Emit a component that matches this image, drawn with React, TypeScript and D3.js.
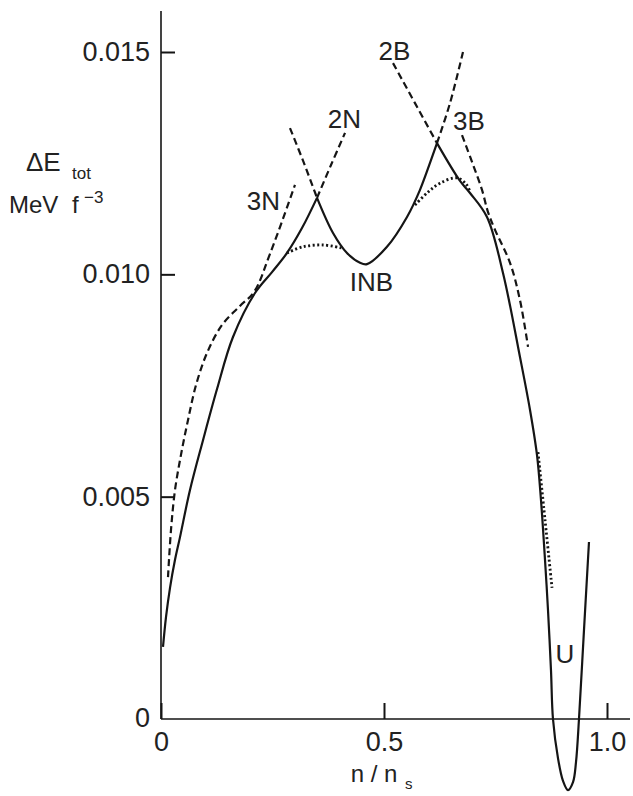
import React, { useEffect, useRef } from 'react';
import * as d3 from 'd3';

type Pt = [number, number];

// n/n_s , ΔE_tot (MeV f^-3)
const curve2N: Pt[] = [
  [0.0045, 0.00162], [0.0112, 0.00229], [0.0202, 0.00295], [0.0314, 0.00358],
  [0.0426, 0.00409], [0.065, 0.00515], [0.0942, 0.00627], [0.1256, 0.00742],
  [0.1614, 0.00859], [0.2108, 0.00958], [0.2489, 0.01005], [0.2825, 0.01048],
  [0.3161, 0.01104], [0.3498, 0.01172],
];
const curve2NExt: Pt[] = [[0.3498, 0.01172], [0.3812, 0.01246], [0.4126, 0.01318]];

const curve3N: Pt[] = [
  [0.0157, 0.00319], [0.0224, 0.00425], [0.0314, 0.00515], [0.0448, 0.00594],
  [0.0605, 0.00672], [0.0785, 0.00751], [0.1031, 0.00823], [0.1368, 0.00886],
  [0.1771, 0.00929], [0.2085, 0.0096], [0.2444, 0.01046], [0.3004, 0.01201],
];

const curveINBExtLow: Pt[] = [[0.2892, 0.01329], [0.3206, 0.0125], [0.3498, 0.01172]];
const curveINB: Pt[] = [
  [0.3498, 0.01172], [0.3857, 0.01093], [0.417, 0.01048], [0.4462, 0.01026],
  [0.4619, 0.01023], [0.5067, 0.01062], [0.5516, 0.01129], [0.5807, 0.0119],
  [0.6188, 0.01295],
];
const curveINBExtHigh: Pt[] = [[0.6188, 0.01295], [0.648, 0.01385], [0.6771, 0.015]];

const curve2BExt: Pt[] = [[0.5202, 0.01475], [0.5695, 0.01385], [0.6188, 0.01295]];
// 2B -> 3B -> U, lowest branch on the right
const curveHigh: Pt[] = [
  [0.6188, 0.01295], [0.6704, 0.0121], [0.6928, 0.01183], [0.7309, 0.01129],
  [0.7668, 0.01003], [0.8049, 0.00814], [0.8274, 0.00695], [0.843, 0.00594],
  [0.852, 0.00492], [0.861, 0.00358], [0.8677, 0.00245], [0.8744, 0.0011],
  [0.8789, 0], [0.8901, -0.00088], [0.9013, -0.00139], [0.9126, -0.0016],
  [0.9238, -0.00142], [0.9305, -0.00097], [0.9372, 0], [0.9484, 0.002],
  [0.9596, 0.00398],
];

const curve3B: Pt[] = [
  [0.6749, 0.01313], [0.6973, 0.01253], [0.7197, 0.0119], [0.7332, 0.0114],
  [0.7489, 0.011], [0.7825, 0.01026], [0.8049, 0.00942], [0.8229, 0.00837],
];

const dottedLeft: Pt[] = [[0.2825, 0.01048], [0.3184, 0.01062], [0.3632, 0.01066], [0.4058, 0.01059]];
const dottedMid: Pt[] = [
  [0.5695, 0.01156], [0.5987, 0.01185], [0.6256, 0.01205], [0.6637, 0.01217],
  [0.6839, 0.01203], [0.6928, 0.01186],
];
const dottedLow: Pt[] = [[0.8453, 0.006], [0.861, 0.00448], [0.8767, 0.00295]];

const yTicks = [0.005, 0.01, 0.015];
const xTicks = [0, 0.5, 1.0];

const FONT = '"Liberation Sans", Arial, sans-serif';
const INK = '#151515';

export default function App() {
  const xAxisRef = useRef<SVGGElement>(null);
  const yAxisRef = useRef<SVGGElement>(null);

  const x = d3.scaleLinear().domain([0, 1]).range([161, 607]);
  const y = d3.scaleLinear().domain([0, 0.015]).range([719, 52]);

  const line = d3.line<Pt>()
    .x(d => x(d[0]))
    .y(d => y(d[1]))
    .curve(d3.curveCatmullRom.alpha(0.5));

  useEffect(() => {
    const yAxis = d3.axisLeft(y)
      .tickValues(yTicks)
      .tickSizeInner(-14)
      .tickSizeOuter(0)
      .tickPadding(11)
      .tickFormat(d3.format('.3f') as any);
    const gy = d3.select(yAxisRef.current!).call(yAxis);
    gy.select('.domain').remove();
    gy.attr('font-family', FONT).attr('font-size', 27);
    gy.selectAll('line').attr('stroke', INK).attr('stroke-width', 2);
    gy.selectAll('text').attr('fill', '#222');

    const xAxis = d3.axisBottom(x)
      .tickValues(xTicks)
      .tickSizeInner(-16)
      .tickSizeOuter(0)
      .tickPadding(13)
      .tickFormat((d: any) => (d === 0 ? '0' : d3.format('.1f')(d)));
    const gx = d3.select(xAxisRef.current!).call(xAxis);
    gx.select('.domain').remove();
    gx.attr('font-family', FONT).attr('font-size', 27);
    gx.selectAll('line').attr('stroke', INK).attr('stroke-width', 2);
    gx.selectAll('text').attr('fill', '#222');
  }, []);

  const solid = { fill: 'none', stroke: INK, strokeWidth: 2.2 };
  const dashed = { ...solid, strokeDasharray: '7,4' };
  const dotted = { ...solid, strokeWidth: 2.8, strokeDasharray: '2,2.5' };

  const label = (t: string, px: number, py: number) => (
    <text x={x(px)} y={y(py)} textAnchor="middle" fontSize={26} fill="#222" fontFamily={FONT}>{t}</text>
  );

  return (
    <svg width={633} height={796} style={{ position: 'absolute', left: 0, top: 0, background: '#fff' }}>
      {/* axes */}
      <line x1={161} y1={11} x2={161} y2={719} stroke={INK} strokeWidth={1.6} />
      <line x1={161} y1={719} x2={630} y2={719} stroke={INK} strokeWidth={1.6} />
      <g ref={yAxisRef} transform="translate(161,0)" />
      <g ref={xAxisRef} transform="translate(0,719)" />
      <text x={150} y={727} textAnchor="end" fontSize={27} fill="#222" fontFamily={FONT}>0</text>

      {/* axis titles */}
      <text x={26} y={171} fontSize={26} fill="#222" fontFamily={FONT}>ΔE</text>
      <text x={72} y={179} fontSize={17} fill="#222" fontFamily={FONT}>tot</text>
      <text x={9} y={213} fontSize={24} fill="#222" fontFamily={FONT}>MeV</text>
      <text x={72} y={213} fontSize={24} fill="#222" fontFamily={FONT}>f</text>
      <text x={84} y={203} fontSize={17} fill="#222" fontFamily={FONT}>−3</text>
      <text x={374} y={782} fontSize={24} fill="#222" fontFamily={FONT} textAnchor="middle">n / n</text>
      <text x={405} y={789} fontSize={15} fill="#222" fontFamily={FONT}>s</text>

      {/* curves */}
      <path d={line(curve2N)!} style={solid} />
      <path d={line(curve2NExt)!} style={dashed} />
      <path d={line(curve3N)!} style={dashed} />
      <path d={line(curveINBExtLow)!} style={dashed} />
      <path d={line(curveINB)!} style={solid} />
      <path d={line(curveINBExtHigh)!} style={dashed} />
      <path d={line(curve2BExt)!} style={dashed} />
      <path d={line(curveHigh)!} style={solid} />
      <path d={line(curve3B)!} style={dashed} />
      <path d={line(dottedLeft)!} style={dotted} />
      <path d={line(dottedMid)!} style={dotted} />
      <path d={line(dottedLow)!} style={dotted} />

      {/* phase labels */}
      {label('3N', 0.2298, 0.01145)}
      {label('2N', 0.4114, 0.01329)}
      {label('2B', 0.5235, 0.01482)}
      {label('3B', 0.6906, 0.01325)}
      {label('INB', 0.472, 0.00962)}
      {label('U', 0.9058, 0.00126)}
    </svg>
  );
}
